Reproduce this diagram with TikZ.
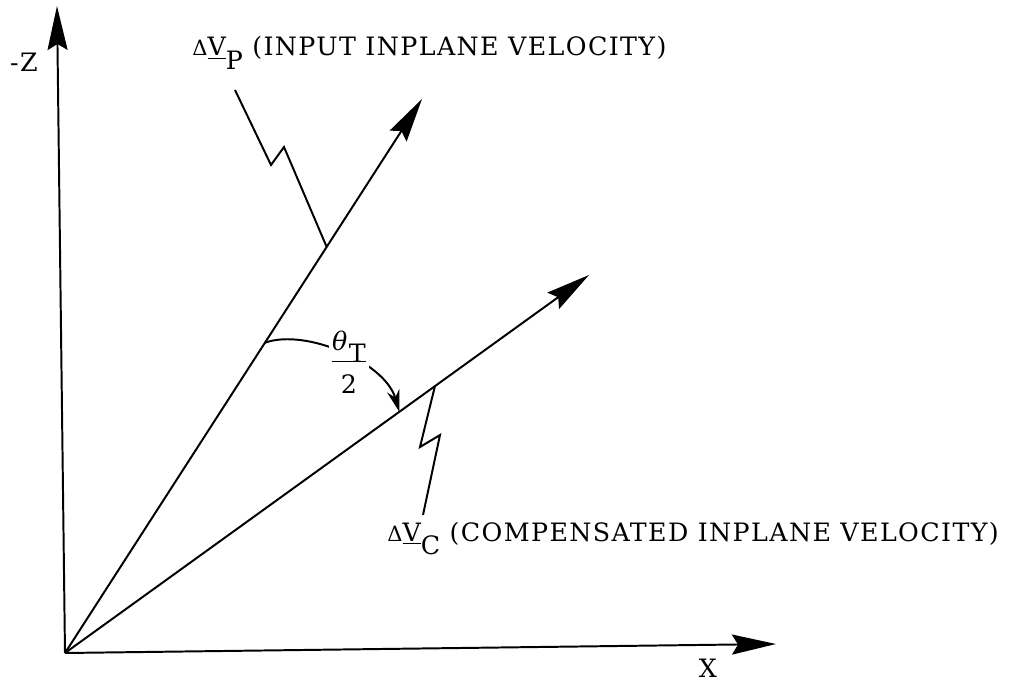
\documentclass[tikz,border=0pt]{standalone}
\usepackage{fontspec}
\setmainfont{DejaVu Serif}[LetterSpace=5.5]
\usetikzlibrary{arrows.meta}
\newcommand{\dvec}[1]{{\fontsize{15}{16}\selectfont Δ}\underline{V}\raisebox{-1ex}{#1}}
\tikzset{
  vec/.style={line width=1.4pt,-{Stealth[length=11mm,width=5mm,inset=1.5mm]}},
  lead/.style={line width=1.4pt},
  lbl/.style={font=\fontsize{18}{21}\selectfont,inner sep=0pt}
}
\begin{document}
\begin{tikzpicture}[x=0.025cm,y=-0.025cm]
  \useasboundingbox (0,0) rectangle (1015,683);
  \coordinate (O) at (65,653);
  \coordinate (Z) at (57,6);
  \coordinate (X) at (776,644);
  \coordinate (P) at (422,99);
  \coordinate (C) at (589,275);
  % axes
  \draw[vec] (O) -- (Z);
  \draw[vec] (O) -- (X);
  \node[lbl] (zlab) at (24,62) {-Z};
  \node[lbl] (xlab) at (708,668) {X};
  % velocity vectors
  \draw[vec] (O) -- (P);
  \draw[vec] (O) -- (C);
  \path (O) -- (P) coordinate[pos=0.733] (pfoot) coordinate[pos=0.56] (pang);
  \path (O) -- (C) coordinate[pos=0.706] (cfoot) coordinate[pos=0.638] (cang);
  % leaders
  \coordinate (ptop) at (235,90);
  \coordinate (cbot) at (423,515);
  \draw[lead,line join=miter] (pfoot) -- (284,147) -- (271,165) -- (ptop);
  \draw[lead,line join=miter] (cfoot) -- (420,447) -- (440,435) -- (cbot);
  \node[lbl,anchor=base west] (plab) at (192,56)
    {\dvec{P} (INPUT INPLANE VELOCITY)};
  \node[lbl,anchor=base west] (clab) at (387,541)
    {\dvec{C} (COMPENSATED INPLANE VELOCITY)};
  % angle
  \draw[lead,-{Stealth[length=5.5mm,width=3.2mm]}] (pang)
    .. controls (305,328) and (385,362) .. (cang);
  \node[lbl,fill=white,inner sep=2pt] (theta) at (349,366)
    {\begin{tabular}{@{}c@{}}\textit{θ}\raisebox{-0.9ex}{T}\\[-1pt]\hline\rule{0pt}{2.4ex}2\end{tabular}};
\end{tikzpicture}
\end{document}
